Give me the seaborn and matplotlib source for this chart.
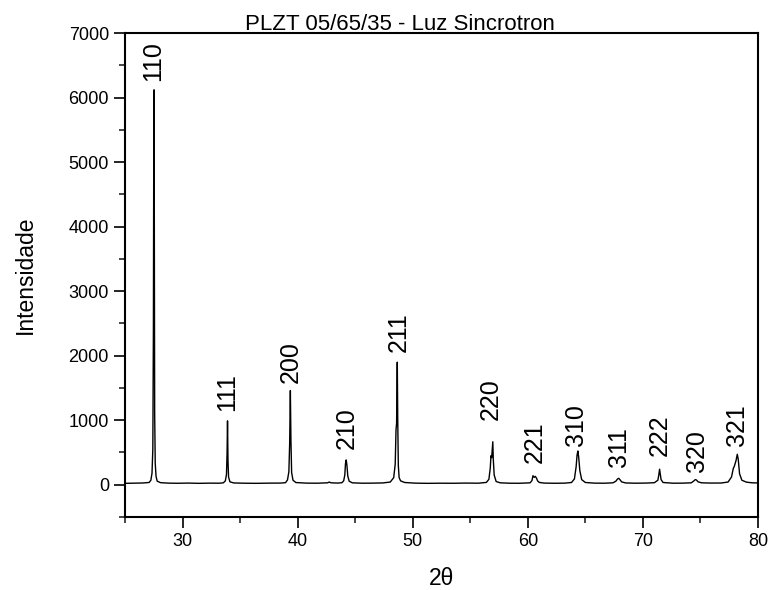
import matplotlib
matplotlib.use("Agg")
import matplotlib.pyplot as plt
import seaborn as sns
import pandas as pd
from matplotlib.ticker import MultipleLocator

# ---- data ----
two_theta = [
    25.0, 25.8, 26.5, 27.1, 27.25, 27.35, 27.42, 27.47, 27.50, 27.52, 27.53, 27.55, 27.58, 27.63, 27.70, 27.80, 28.1,
    28.8, 29.6, 30.5, 31.4, 32.3, 33.2,
    33.55, 33.72, 33.82, 33.87, 33.91, 33.95, 34.0, 34.12, 34.45,
    35.3, 36.4, 37.5, 38.5,
    38.95, 39.12, 39.24, 39.31, 39.37, 39.42, 39.48, 39.6, 39.85,
    40.8, 41.7, 42.6, 42.75, 42.9, 43.5,
    43.85, 44.0, 44.1, 44.16, 44.22, 44.28, 44.36, 44.48, 44.75,
    45.6, 46.5, 47.4,
    48.05, 48.35, 48.48, 48.55, 48.6, 48.66, 48.7, 48.75, 48.82, 48.95, 49.3,
    50.2, 51.3, 52.4, 53.5, 54.6, 55.7,
    56.4, 56.62, 56.74, 56.8, 56.86, 56.92, 56.96, 57.0, 57.08, 57.25, 57.6,
    58.4, 59.3,
    60.2, 60.36, 60.45, 60.55, 60.65, 60.75, 60.85, 61.0, 61.4,
    62.3, 63.2,
    63.8, 64.05, 64.2, 64.28, 64.35, 64.42, 64.52, 64.68, 65.0,
    65.8, 66.7,
    67.4, 67.65, 67.8, 67.9, 68.0, 68.15, 68.5,
    69.3, 70.3,
    71.0, 71.2, 71.3, 71.38, 71.45, 71.5, 71.58, 71.75,
    72.6, 73.5,
    74.2, 74.4, 74.55, 74.65, 74.8, 75.1,
    75.9, 76.8,
    77.4, 77.7, 77.85, 77.95, 78.1, 78.2, 78.28, 78.4, 78.6, 79.0, 79.5, 80.0,
]
intensity = [
    22, 24, 27, 35, 70, 180, 550, 2400, 5100, 5100, 6120, 3800, 1100, 330, 130, 55, 32,
    25, 23, 26, 22, 25, 24,
    30, 60, 160, 480, 990, 380, 120, 45, 28,
    24, 22, 25, 26,
    32, 75, 200, 640, 1460, 680, 190, 70, 34,
    25, 24, 30, 42, 30, 26,
    32, 60, 150, 330, 385, 310, 135, 55, 30,
    24, 25, 28,
    42, 110, 320, 850, 950, 1900, 1000, 300, 110, 60, 35,
    25, 22, 24, 23, 26, 24,
    36, 85, 260, 450, 420, 560, 666, 400, 150, 50, 30,
    24, 23,
    30, 65, 140, 115, 130, 105, 60, 36, 26,
    23, 25,
    35, 90, 280, 460, 523, 430, 220, 80, 35,
    25, 24,
    30, 55, 90, 100, 80, 45, 28,
    24, 26,
    32, 58, 70, 150, 241, 180, 80, 35,
    24, 25,
    30, 55, 80, 74, 45, 30,
    26, 27,
    42, 120, 250, 290, 380, 472, 400, 170, 70, 40, 30, 28,
]

peak_labels = ["110", "111", "200", "210", "211", "220", "221", "310", "311", "222", "320", "321"]
label_x = [27.45, 33.9, 39.37, 44.25, 48.8, 56.75, 60.6, 64.2, 67.95, 71.5, 74.7, 78.15]
label_y = [6250, 1140, 1575, 560, 2060, 1000, 330, 600, 270, 450, 205, 600]

title_text = "PLZT 05/65/35 - Luz Sincrotron"
x_label = "2\u03b8"
y_label = "Intensidade"

# ---- plotting ----
sns.set_style("ticks")
plt.rcParams["font.family"] = ["Liberation Sans", "DejaVu Sans"]
plt.rcParams["text.color"] = "black"
plt.rcParams["axes.labelcolor"] = "black"

df = pd.DataFrame({"two_theta": two_theta, "intensity": intensity})

fig = plt.figure(figsize=(7.7, 5.9), dpi=100)
ax = fig.add_axes([0.1623, 0.1237, 0.8221, 0.8203])

sns.lineplot(data=df, x="two_theta", y="intensity", sort=False, color="black",
             linewidth=1.0, ax=ax, estimator=None)

for lab, lx, ly in zip(peak_labels, label_x, label_y):
    ax.text(lx, ly, lab, rotation=90, ha="center", va="bottom", fontsize=18, color="black")

ax.set_xlim(25, 80)
ax.set_ylim(-500, 7000)
ax.xaxis.set_major_locator(MultipleLocator(10))
ax.xaxis.set_minor_locator(MultipleLocator(5))
ax.set_yticks([0, 1000, 2000, 3000, 4000, 5000, 6000, 7000])
ax.yaxis.set_minor_locator(MultipleLocator(500))

ax.tick_params(axis="both", which="major", direction="out", length=8, width=1.2,
               labelsize=13, colors="black", top=False, right=False)
ax.tick_params(axis="both", which="minor", direction="out", length=4.5, width=1.2,
               top=False, right=False)
for s in ax.spines.values():
    s.set_linewidth(1.5)
    s.set_color("black")
    s.set_visible(True)

ax.set_xlabel(x_label, fontsize=16.5, labelpad=12, color="black")
ax.set_ylabel(y_label, fontsize=16.5, labelpad=23, color="black")
fig.text(400 / 770, 1 - 30 / 590, title_text, fontsize=16, ha="center", va="baseline",
         color="black")

fig.savefig("out.png", dpi=100)
